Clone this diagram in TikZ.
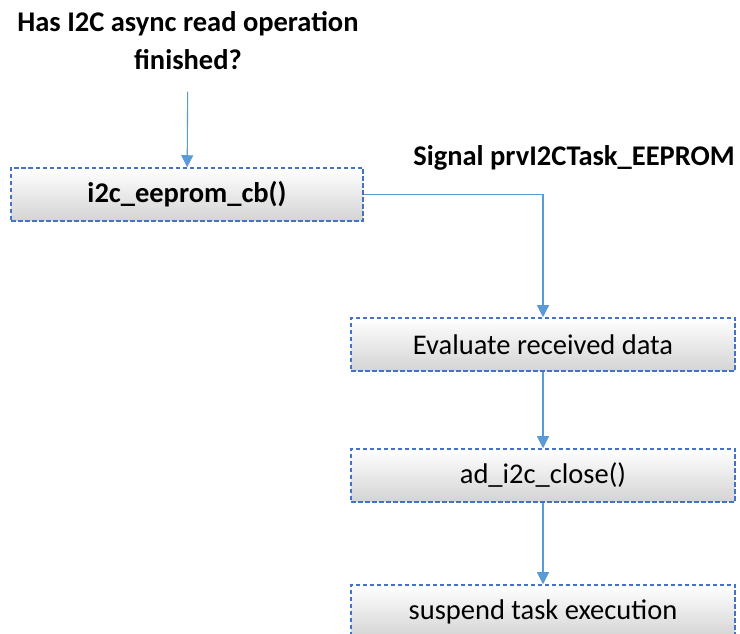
\documentclass[tikz,border=0pt]{standalone}
\usepackage{fontspec}
\setmainfont{Carlito}
\usetikzlibrary{arrows.meta, positioning}
\definecolor{boxline}{HTML}{4472C4}
\definecolor{arrowline}{HTML}{5B9BD5}
\tikzstyle{step box} = [rectangle, minimum width=384pt, minimum height=53pt, text centered, draw=boxline, line width=1.5pt, dash pattern=on 4.5pt off 2.5pt, top color=white, bottom color=black!17, font=\fontsize{28.5}{32}\selectfont]
\tikzstyle{caption} = [text centered, font=\bfseries\fontsize{28.5}{38}\selectfont]
\tikzstyle{edge} = [line width=1.1pt, draw=arrowline, -{Triangle[width=12pt,length=12pt]}]

\begin{document}
\begin{tikzpicture}[x=1pt, y=1pt]

\clip (0,0) rectangle (740,634);

\node (0) [caption, align=center] at (188,593) {Has I2C async read operation\\finished?};
\node (1) [step box, minimum width=352pt, font=\bfseries\fontsize{28.5}{32}\selectfont] at (187,439.5) {i2c\_eeprom\_cb()};
\node (2) [step box] at (543,289.5) {Evaluate received data};
\node (3) [step box] at (543,158.5) {ad\_i2c\_close()};
\node (4) [step box] at (543,22.5) {suspend task execution};
\node (5) [caption] at (574,476) {Signal prvI2CTask\_EEPROM};

\draw [edge, shorten <=18pt] (0) -- (1);
\draw [edge] (1) -| (2);
\draw [edge] (2) -- (3);
\draw [edge] (3) -- (4);

\end{tikzpicture}
\end{document}
